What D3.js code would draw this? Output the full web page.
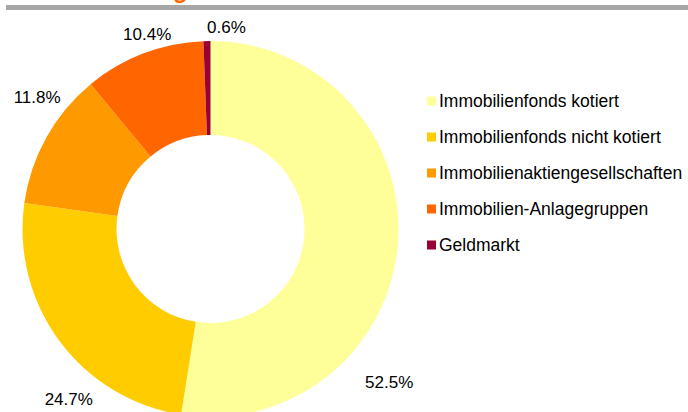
<!DOCTYPE html>
<html>
<head>
<meta charset="utf-8">
<script src="https://cdn.jsdelivr.net/npm/d3@7"></script>
<style>
  body { margin: 0; background: #fff; }
  text { font-family: "Liberation Sans", Arial, sans-serif; }
</style>
</head>
<body>
<div class="chart"></div>
<script>
// chart data
var categories = ["Immobilienfonds kotiert", "Immobilienfonds nicht kotiert",
    "Immobilienaktiengesellschaften", "Immobilien-Anlagegruppen", "Geldmarkt"];
var shares = [52.5, 24.7, 11.8, 10.4, 0.6];
var colors = ["#FFFF99", "#FFCC00", "#FF9900", "#FF6600", "#990033"];
var labelText = ["52.5%", "24.7%", "11.8%", "10.4%", "0.6%"];

// where the value labels sit (angle in degrees from top, distance from centre)
var labelAngle = [130.5, 219.9, 307.3, 342, 4.5];
var labelDist = [235, 221, 218, 205, 203];

var width = 688, height = 412;
var cx = 210.5, cy = 229, outerR = 188, innerR = 94;

var svg = d3.select("div.chart")
    .append("svg")
    .attr("width", width)
    .attr("height", height);

// cut-off title and rule above the chart
svg.append("text")
    .attr("x", 69)
    .attr("y", -2)
    .attr("fill", "#FF6600")
    .style("font-weight", "bold")
    .style("font-size", "24px")
    .text("Aufteilung");

svg.append("rect")
    .attr("x", 6).attr("y", 5)
    .attr("width", 682).attr("height", 5)
    .attr("fill", "#A6A6A6");

var chart = svg.append("g")
    .attr("transform", "translate(" + cx + "," + cy + ")");

var pie = d3.pie().sort(null).value(function (d) { return d; });
var arc = d3.arc().innerRadius(innerR).outerRadius(outerR);

var arcs = chart.selectAll("path.slice")
    .data(pie(shares))
    .enter()
    .append("path")
    .attr("class", "slice")
    .attr("fill", function (d, i) { return colors[i]; })
    .attr("d", arc);

chart.selectAll("text.lbl")
    .data(labelText)
    .enter()
    .append("text")
    .attr("class", "lbl")
    .attr("x", function (d, i) { return labelDist[i] * Math.sin(labelAngle[i] * Math.PI / 180); })
    .attr("y", function (d, i) { return -labelDist[i] * Math.cos(labelAngle[i] * Math.PI / 180); })
    .attr("dy", "0.36em")
    .style("text-anchor", "middle")
    .style("font-size", "17px")
    .attr("fill", "#000")
    .text(function (d) { return d; });

// legend
var legend = svg.append("g")
    .attr("transform", "translate(427,101)");

var rows = legend.selectAll("g")
    .data(categories)
    .enter()
    .append("g")
    .attr("transform", function (d, i) { return "translate(0," + i * 36 + ")"; });

rows.append("rect")
    .attr("x", 0).attr("y", -4.5)
    .attr("width", 9).attr("height", 9)
    .attr("fill", function (d, i) { return colors[i]; });

rows.append("text")
    .attr("x", 12)
    .attr("dy", "0.36em")
    .style("font-size", "17.5px")
    .attr("fill", "#000")
    .text(function (d) { return d; });
</script>
</body>
</html>
